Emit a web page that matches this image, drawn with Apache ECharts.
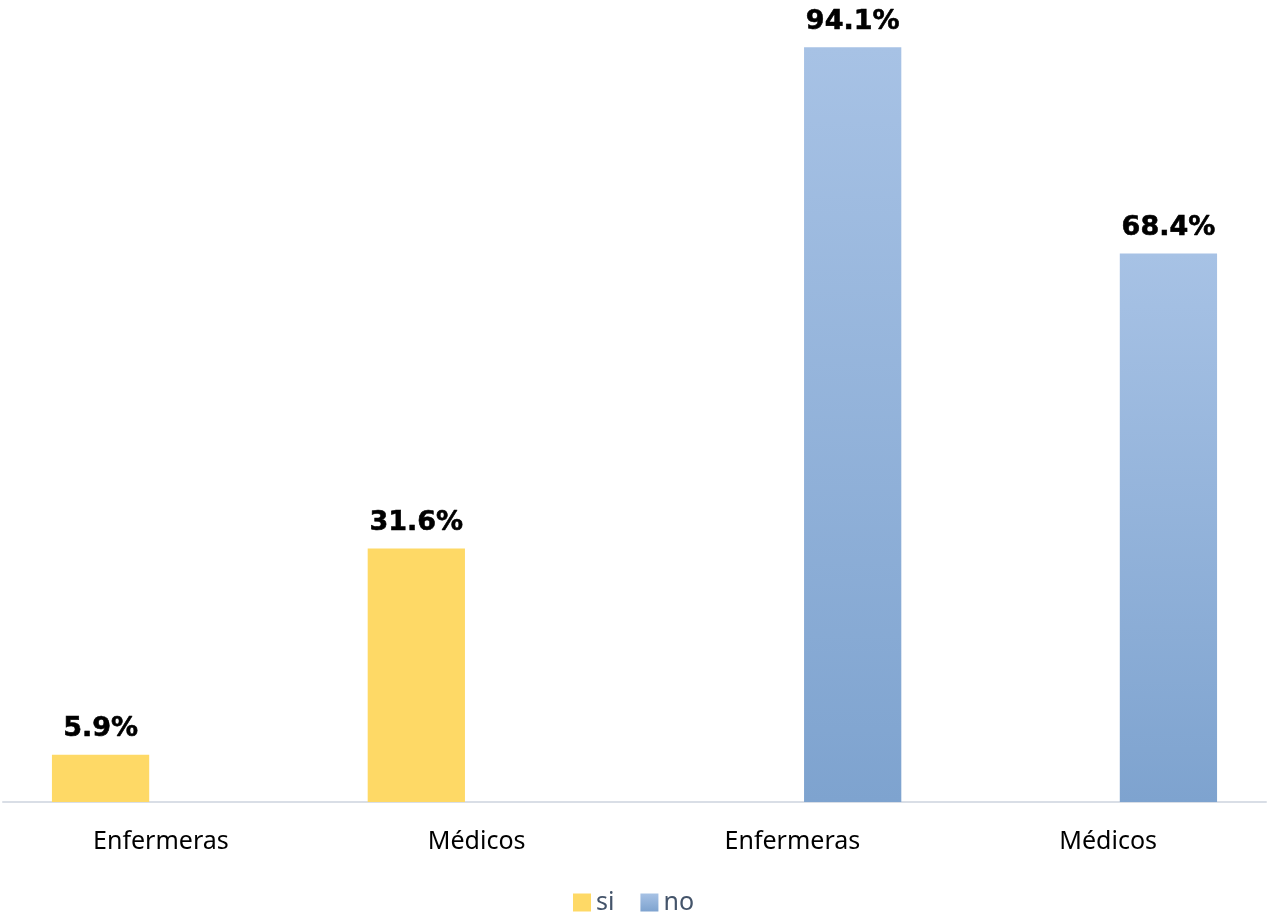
<!DOCTYPE html>
<html><head><meta charset="utf-8">
<script src="https://cdn.jsdelivr.net/npm/echarts@6/dist/echarts.min.js"></script>
<style>html,body{margin:0;padding:0;background:#fff}#c{width:1267px;height:917px}</style>
</head><body><div id="c"></div>
<script>
const categories = ['Enfermeras', 'Médicos', 'Enfermeras', 'Médicos'];
const siValues = [5.9, 31.6, null, null];
const noValues = [null, null, 94.1, 68.4];
const seriesNames = ['si', 'no'];

const chart = echarts.init(document.getElementById('c'));
const labelStyle = {
  show: true, position: 'top', distance: 12,
  formatter: p => p.value.toFixed(1) + '%',
  fontFamily: 'DejaVu Sans', fontWeight: 'bold', fontSize: 27, color: '#000',
  textBorderColor: '#000', textBorderWidth: 0.6
};
chart.setOption({
  animation: false,
  grid: { left: 3, right: 1, top: -4, bottom: 115, containLabel: false },
  legend: {
    top: 885, left: 'center', itemWidth: 18, itemHeight: 18, itemGap: 26, icon: 'rect',
    textStyle: { fontFamily: 'Noto Sans', fontSize: 25, color: '#44546A' },
    data: seriesNames
  },
  xAxis: {
    type: 'category', data: categories,
    axisLine: { lineStyle: { color: '#D9DEE6', width: 2 } },
    axisTick: { show: false },
    axisLabel: { fontFamily: 'Noto Sans', fontSize: 25, color: '#000', margin: 27 }
  },
  yAxis: { type: 'value', min: 0, max: 100, show: false, splitLine: { show: false } },
  series: [
    { name: seriesNames[0], type: 'bar', data: siValues, barGap: '24%', barCategoryGap: '31%',
      itemStyle: { color: '#FED966' }, label: labelStyle },
    { name: seriesNames[1], type: 'bar', data: noValues,
      itemStyle: { color: new echarts.graphic.LinearGradient(0, 0, 0, 1, [
        { offset: 0, color: '#A7C2E5' }, { offset: 1, color: '#7EA3CF' }]) },
      label: labelStyle }
  ]
});
</script></body></html>
